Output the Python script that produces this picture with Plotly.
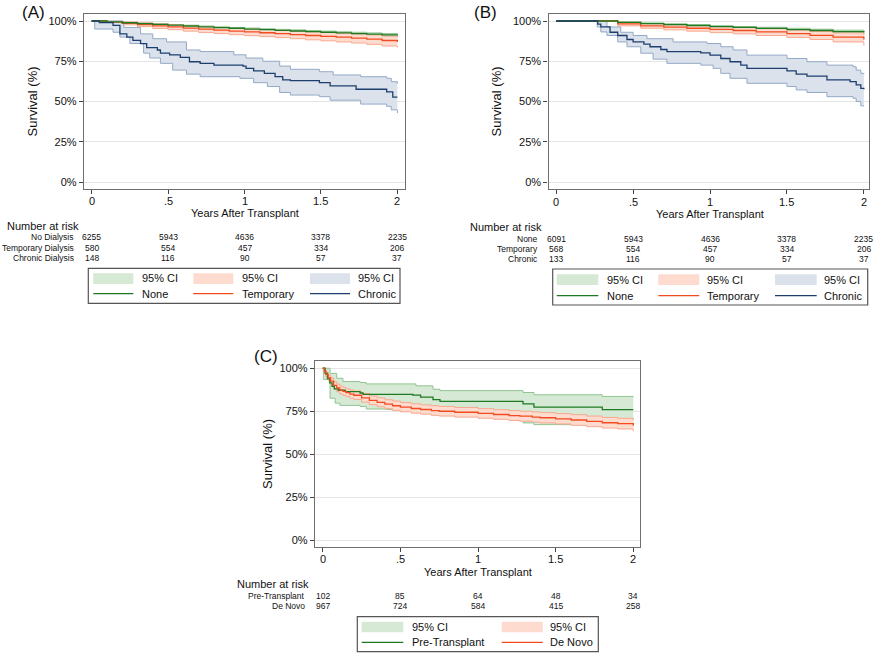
import plotly.graph_objects as go

W, H = 876, 654
FONT = "Liberation Sans, Arial, Helvetica, sans-serif"

# ---------------- DATA ----------------
ticks_x = [0, 0.5, 1, 1.5, 2]
ticks_x_text = ["0", ".5", "1", "1.5", "2"]
ticks_y = [0, 25, 50, 75, 100]
ticks_y_text = ["0%", "25%", "50%", "75%", "100%"]

# Panel A
a_none_t = [0, 0.1, 0.2, 0.3, 0.4, 0.5, 0.6, 0.7, 0.8, 0.9, 1.0, 1.1, 1.2, 1.3, 1.4, 1.5, 1.6, 1.7, 1.8, 1.9, 2.0]
a_none_s = [100, 99.4, 98.9, 98.4, 97.9, 97.4, 96.9, 96.4, 95.9, 95.5, 95.0, 94.6, 94.2, 93.8, 93.4, 93.0, 92.6, 92.2, 91.8, 91.4, 91.0]
a_none_lo = [100, 99.2, 98.6, 98.0, 97.5, 97.0, 96.4, 95.9, 95.4, 94.9, 94.4, 94.0, 93.5, 93.1, 92.6, 92.2, 91.8, 91.3, 90.9, 90.5, 90.1]
a_none_hi = [100, 99.6, 99.2, 98.8, 98.3, 97.8, 97.4, 96.9, 96.4, 96.0, 95.6, 95.2, 94.8, 94.5, 94.1, 93.7, 93.3, 93.0, 92.6, 92.2, 91.8]

a_temp_t = [0, 0.1, 0.2, 0.3, 0.4, 0.5, 0.6, 0.7, 0.8, 0.9, 1.0, 1.1, 1.2, 1.3, 1.4, 1.5, 1.6, 1.7, 1.8, 1.9, 2.0]
a_temp_s = [100, 99.3, 98.6, 97.8, 97.0, 96.3, 95.6, 94.9, 94.3, 93.7, 93.2, 92.7, 92.2, 91.6, 91.0, 90.5, 90.0, 89.4, 88.7, 87.9, 87.0]
a_temp_lo = [100, 98.6, 97.6, 96.5, 95.4, 94.6, 93.7, 92.9, 92.2, 91.5, 90.9, 90.3, 89.7, 89.0, 88.3, 87.7, 87.0, 86.3, 85.5, 84.5, 83.5]
a_temp_hi = [100, 99.8, 99.4, 98.8, 98.2, 97.6, 97.0, 96.4, 95.9, 95.4, 95.0, 94.6, 94.2, 93.7, 93.2, 92.8, 92.4, 91.9, 91.3, 90.6, 89.8]

a_chr_t = [0, 0.05, 0.14, 0.185, 0.23, 0.27, 0.32, 0.36, 0.43, 0.45, 0.51, 0.58, 0.64, 0.71, 0.8, 0.99, 1.01, 1.06, 1.13, 1.2, 1.25, 1.3, 1.49, 1.56, 1.73, 1.93, 1.97, 2.0]
a_chr_s = [100, 99, 97.3, 92, 90, 88, 86, 83.5, 82, 80, 79, 77.4, 74.7, 73.7, 72.6, 72, 70.6, 69, 67.5, 65.4, 63.4, 63, 61.7, 59.7, 57.6, 56, 52.7, 52.7]
a_chr_hi_t = [0, 0.055, 0.21, 0.32, 0.40, 0.49, 0.62, 0.71, 0.93, 1.01, 1.12, 1.23, 1.30, 1.49, 1.58, 1.76, 1.93, 1.96, 2.0]
a_chr_hi = [100, 100, 96, 92, 89, 87, 82, 81, 79, 77, 75, 72, 70, 68.5, 66.5, 65.4, 64.4, 62.3, 61]
a_chr_lo_t = [0, 0.02, 0.14, 0.185, 0.25, 0.34, 0.38, 0.45, 0.53, 0.62, 0.71, 0.97, 1.06, 1.15, 1.23, 1.30, 1.49, 1.56, 1.76, 1.93, 1.96, 2.0]
a_chr_lo = [100, 95, 93, 90, 86, 80, 77, 73.7, 69.5, 67, 65.4, 64.4, 61.7, 59.3, 55.6, 54, 53, 50.8, 48.4, 47, 44.8, 42.8]

a_groups = ["No Dialysis", "Temporary Dialysis", "Chronic Dialysis"]
a_risk = [[6255, 5943, 4636, 3378, 2235], [580, 554, 457, 334, 206], [148, 116, 90, 57, 37]]

# Panel B
b_none_t = [0, 0.27, 0.4, 0.55, 0.7, 0.85, 1.0, 1.15, 1.3, 1.5, 1.65, 1.8, 2.0]
b_none_s = [100, 100, 99.2, 98.4, 97.8, 97.2, 96.5, 96.0, 95.4, 94.7, 94.1, 93.4, 92.8]
b_none_lo = [100, 100, 98.9, 98.0, 97.3, 96.7, 95.9, 95.4, 94.7, 93.9, 93.3, 92.5, 91.9]
b_none_hi = [100, 100, 99.5, 98.8, 98.3, 97.7, 97.1, 96.6, 96.1, 95.5, 94.9, 94.3, 93.7]

b_temp_t = [0, 0.27, 0.4, 0.55, 0.7, 0.85, 1.0, 1.15, 1.3, 1.5, 1.65, 1.8, 2.0]
b_temp_s = [100, 100, 98.2, 97.0, 96.2, 95.5, 94.8, 94.1, 93.3, 92.2, 91.1, 90.0, 88.5]
b_temp_lo = [100, 100, 97.0, 95.5, 94.5, 93.7, 92.8, 92.0, 91.0, 89.8, 88.5, 87.0, 84.8]
b_temp_hi = [100, 100, 99.2, 98.3, 97.6, 97.1, 96.5, 95.9, 95.3, 94.4, 93.5, 92.6, 91.3]

b_chr_t = [0, 0.27, 0.29, 0.35, 0.40, 0.46, 0.50, 0.57, 0.61, 0.68, 0.72, 0.94, 1.0, 1.07, 1.13, 1.2, 1.24, 1.5, 1.56, 1.63, 1.76, 1.91, 1.95, 1.98, 2.0]
b_chr_s = [100, 98, 96.3, 93, 91, 88.5, 87, 85.6, 84, 82.3, 81, 80.2, 78.8, 76.7, 74.7, 72.6, 70.6, 69, 67, 65.8, 63.4, 62.3, 60.3, 58.2, 57.6]
b_chr_hi_t = [0, 0.266, 0.33, 0.42, 0.50, 0.59, 0.76, 0.98, 1.07, 1.15, 1.24, 1.5, 1.63, 1.76, 1.93, 1.95, 1.98, 2.0]
b_chr_hi = [100, 100, 96.3, 93, 91, 89, 87, 86, 84, 82, 78.8, 76.7, 74.7, 72.6, 71.6, 69.5, 67.5, 67]
b_chr_lo_t = [0, 0.266, 0.29, 0.33, 0.40, 0.46, 0.55, 0.63, 0.72, 0.94, 1.02, 1.07, 1.13, 1.24, 1.5, 1.56, 1.63, 1.76, 1.93, 1.95, 1.98, 2.0]
b_chr_lo = [100, 96.3, 93.2, 91, 87, 84, 80, 76.3, 73.7, 72.6, 70.6, 67.5, 64.4, 61.3, 59.3, 57.2, 55.6, 53, 52, 50, 47.3, 47]

b_groups = ["None", "Temporary", "Chronic"]
b_risk = [[6091, 5943, 4636, 3378, 2235], [568, 554, 457, 334, 206], [133, 116, 90, 57, 37]]

# Panel C
c_pre_t = [0, 0.015, 0.03, 0.045, 0.06, 0.075, 0.1, 0.145, 0.24, 0.26, 0.58, 0.63, 0.71, 0.755, 1.29, 1.36, 1.8, 2.0]
c_pre_s = [100, 97, 94, 91.5, 89.5, 88, 87.2, 86.4, 85.6, 84.8, 84.4, 83.2, 81.7, 80.7, 79.3, 77.4, 75.9, 75.9]
c_pre_hi_t = [0, 0.047, 0.09, 0.13, 0.24, 0.28, 0.6, 0.71, 0.755, 1.29, 1.36, 1.8, 2.0]
c_pre_hi = [100, 97, 94.2, 92.3, 91.7, 90.9, 89.8, 87.8, 87, 85.9, 84.6, 83.6, 83.2]
c_pre_lo_t = [0, 0.004, 0.047, 0.08, 0.11, 0.24, 0.28, 0.41, 0.58, 0.63, 0.71, 0.755, 1.29, 1.36, 1.8, 2.0]
c_pre_lo = [100, 93.5, 82.6, 79.7, 78.4, 77.8, 76.3, 76.0, 75.5, 74.2, 73.2, 72.5, 68.2, 67.2, 66.2, 66.2]

c_dn_t = [0, 0.01, 0.02, 0.035, 0.05, 0.07, 0.09, 0.11, 0.13, 0.15, 0.175, 0.2, 0.25, 0.3, 0.35, 0.4, 0.45, 0.5, 0.57, 0.63, 0.7, 0.75, 0.85, 1.0, 1.1, 1.2, 1.27, 1.35, 1.4, 1.5, 1.6, 1.7, 1.8, 1.9, 2.0]
c_dn_s = [100, 98.3, 96.5, 94.4, 92.5, 90.0, 88.6, 87.3, 86.5, 85.8, 85.0, 84.3, 82.8, 81.3, 80.2, 79.1, 78.2, 77.4, 76.6, 76.0, 75.4, 75.0, 74.4, 73.7, 73.1, 72.5, 72.1, 71.6, 71.2, 70.6, 69.9, 69.1, 68.3, 67.8, 66.6]
c_dn_hi = [100, 99.3, 97.8, 96.0, 94.4, 92.1, 90.8, 89.6, 88.8, 88.1, 87.4, 86.7, 85.3, 83.8, 82.8, 81.7, 80.9, 80.1, 79.3, 78.7, 78.2, 77.8, 77.2, 76.5, 75.9, 75.4, 75.0, 74.6, 74.2, 73.6, 73.0, 72.2, 71.4, 70.9, 69.7]
c_dn_lo = [100, 97.3, 95.2, 92.8, 90.6, 87.9, 86.4, 85.0, 84.2, 83.5, 82.6, 81.9, 80.3, 78.8, 77.6, 76.5, 75.5, 74.7, 73.9, 73.3, 72.6, 72.2, 71.6, 70.9, 70.3, 69.6, 69.2, 68.7, 68.2, 67.6, 66.8, 66.0, 65.2, 64.7, 63.3]

c_groups = ["Pre-Transplant", "De Novo"]
c_risk = [[102, 85, 64, 48, 34], [967, 724, 584, 415, 258]]

# ---------------- STYLE ----------------
GREEN, GREEN_FILL, GREEN_EDGE = "#1e7a22", "#d6e9d4", "#92c492"
ORANGE, ORANGE_FILL, ORANGE_EDGE = "#f24b1f", "#fddccf", "#f8a88f"
NAVY, NAVY_FILL, NAVY_EDGE = "#1d3f6e", "#dbe2eb", "#93a9c7"
FRAME = "#6e6e6e"
TXT = "#111111"


def px(x):
    return x / W


def py(y):
    return 1 - y / H


fig = go.Figure()


def band(ax, t_hi, hi, t_lo, lo, fill, edge):
    fig.add_trace(go.Scatter(x=t_hi, y=hi, mode="lines", xaxis="x" + ax, yaxis="y" + ax,
                             line=dict(color=edge, width=1, shape="hv"),
                             hoverinfo="skip", showlegend=False))
    fig.add_trace(go.Scatter(x=t_lo, y=lo, mode="lines", xaxis="x" + ax, yaxis="y" + ax,
                             line=dict(color=edge, width=1, shape="hv"),
                             fill="tonexty", fillcolor=fill,
                             hoverinfo="skip", showlegend=False))


def curve(ax, t, s, color):
    fig.add_trace(go.Scatter(x=t, y=s, mode="lines", xaxis="x" + ax, yaxis="y" + ax,
                             line=dict(color=color, width=1.3, shape="hv"),
                             showlegend=False))


# Panel A (axis suffix "")
band("", a_none_t, a_none_hi, a_none_t, a_none_lo, GREEN_FILL, GREEN_EDGE)
band("", a_temp_t, a_temp_hi, a_temp_t, a_temp_lo, ORANGE_FILL, ORANGE_EDGE)
band("", a_chr_hi_t, a_chr_hi, a_chr_lo_t, a_chr_lo, NAVY_FILL, NAVY_EDGE)
curve("", a_temp_t, a_temp_s, ORANGE)
curve("", a_none_t, a_none_s, GREEN)
curve("", a_chr_t, a_chr_s, NAVY)

# Panel B
band("2", b_none_t, b_none_hi, b_none_t, b_none_lo, GREEN_FILL, GREEN_EDGE)
band("2", b_temp_t, b_temp_hi, b_temp_t, b_temp_lo, ORANGE_FILL, ORANGE_EDGE)
band("2", b_chr_hi_t, b_chr_hi, b_chr_lo_t, b_chr_lo, NAVY_FILL, NAVY_EDGE)
curve("2", b_temp_t, b_temp_s, ORANGE)
curve("2", b_none_t, b_none_s, GREEN)
curve("2", b_chr_t, b_chr_s, NAVY)

# Panel C
band("3", c_pre_hi_t, c_pre_hi, c_pre_lo_t, c_pre_lo, GREEN_FILL, GREEN_EDGE)
band("3", c_dn_t, c_dn_hi, c_dn_t, c_dn_lo, ORANGE_FILL, ORANGE_EDGE)
curve("3", c_pre_t, c_pre_s, GREEN)
curve("3", c_dn_t, c_dn_s, ORANGE)


def xax(domain, rng, anchor):
    return dict(domain=domain, range=rng, anchor=anchor, tickvals=ticks_x,
                ticks="outside", ticklen=4, tickcolor="#444", tickwidth=1, showticklabels=False,
                showline=True, linecolor=FRAME, linewidth=1.3, mirror=True,
                showgrid=False, zeroline=False, fixedrange=True)


def yax(domain, rng, anchor):
    return dict(domain=domain, range=rng, anchor=anchor, tickvals=ticks_y, ticktext=ticks_y_text,
                ticks="outside", ticklen=4, tickcolor="#444", tickwidth=1,
                showline=True, linecolor=FRAME, linewidth=1.3, mirror=True,
                showgrid=True, gridcolor="#e4e4e4", gridwidth=1, zeroline=False, fixedrange=True,
                tickfont=dict(family=FONT, size=11, color=TXT))


fig.update_layout(
    width=W, height=H, margin=dict(l=0, r=0, t=0, b=0),
    paper_bgcolor="white", plot_bgcolor="white",
    showlegend=False,
    xaxis=xax([px(84), px(405)], [-0.05, 2.05], "y"),
    yaxis=yax([py(189), py(14)], [-4.35, 104.35], "x"),
    xaxis2=xax([px(548.5), px(868.5)], [-0.05, 2.03], "y2"),
    yaxis2=yax([py(189), py(14)], [-4.35, 104.35], "x2"),
    xaxis3=xax([px(315), px(639.5)], [-0.05, 2.04], "y3"),
    yaxis3=yax([py(547), py(361.4)], [-4.0, 104.0], "x3"),
)

ann = []
shapes = []


def text(x, y, s, size=11, xanchor="center", xref="paper", angle=0):
    ann.append(dict(x=px(x) if xref == "paper" else x, y=py(y), xref=xref, yref="paper",
                    text=s, showarrow=False, xanchor=xanchor, yanchor="middle", textangle=angle,
                    font=dict(family=FONT, size=size, color=TXT)))


# x tick labels
for t, lab in zip(ticks_x, ticks_x_text):
    text(t, 200.5, lab, 11, "center", xref="x")
    text(t, 201.5, lab, 11, "center", xref="x2")
    text(t, 559, lab, 11, "center", xref="x3")

# Panel labels and axis titles
text(20, 12, "(A)", 17, "left")
text(472, 12, "(B)", 17, "left")
text(252, 357, "(C)", 17, "left")
text(32, 101.5, "Survival (%)", 13, angle=-90)
text(496, 101.5, "Survival (%)", 13, angle=-90)
text(267, 454, "Survival (%)", 13, angle=-90)
text(244.5, 213.3, "Years After Transplant", 11)
text(710, 214, "Years After Transplant", 11)
text(478, 571.7, "Years After Transplant", 11)

# Risk tables
text(5, 225.7, "Number at risk", 11, "left")
for g, row, yy in zip(a_groups, a_risk, [237.3, 247.5, 257.7]):
    text(76, yy, g, 8.5, "right")
    for t, n in zip(ticks_x, row):
        text(t, yy, str(n), 8.5, "center", xref="x")

text(468, 226.7, "Number at risk", 11, "left")
for g, row, yy in zip(b_groups, b_risk, [239, 249.2, 259.3]):
    text(540, yy, g, 8.5, "right")
    for t, n in zip(ticks_x, row):
        text(t, yy, str(n), 8.5, "center", xref="x2")

text(235, 584.3, "Number at risk", 11, "left")
for g, row, yy in zip(c_groups, c_risk, [596, 606.2]):
    text(307, yy, g, 8.5, "right")
    for t, n in zip(ticks_x, row):
        text(t, yy, str(n), 8.5, "center", xref="x3")


# Legends (drawn boxes)
def legend_box(x0, y0, x1, y1, cols, row1_y, row2_y, fy0, fy1, entries):
    shapes.append(dict(type="rect", xref="paper", yref="paper", x0=px(x0), x1=px(x1), y0=py(y1), y1=py(y0),
                       line=dict(color="#555555", width=1.2), fillcolor="white", layer="above"))
    for (sx0, sx1, tx), (fillc, linec, label) in zip(cols, entries):
        shapes.append(dict(type="rect", xref="paper", yref="paper", x0=px(sx0), x1=px(sx1),
                           y0=py(fy1), y1=py(fy0), line=dict(width=0), fillcolor=fillc, layer="above"))
        shapes.append(dict(type="line", xref="paper", yref="paper", x0=px(sx0), x1=px(sx1),
                           y0=py(row2_y), y1=py(row2_y), line=dict(color=linec, width=1.3), layer="above"))
        text(tx, row1_y, "95% CI", 11, "left")
        text(tx, row2_y, label, 11, "left")


legend_box(88.3, 268.3, 400, 303.3,
           [(93.3, 133.3, 139.5), (193.3, 233.3, 240), (310, 350, 356)],
           278.3, 293.6, 273.3, 284,
           [(GREEN_FILL, GREEN, "None"), (ORANGE_FILL, ORANGE, "Temporary"), (NAVY_FILL, NAVY, "Chronic")])
legend_box(552.7, 269, 867.7, 305,
           [(556.7, 598.3, 604.5), (658.3, 699.3, 705), (775, 816.7, 822)],
           280, 295.7, 274.3, 285,
           [(GREEN_FILL, GREEN, "None"), (ORANGE_FILL, ORANGE, "Temporary"), (NAVY_FILL, NAVY, "Chronic")])
legend_box(357.3, 616.7, 598.3, 651.7,
           [(361.7, 403.3, 409.5), (501.7, 542.7, 548)],
           627.3, 642.3, 621.7, 632.3,
           [(GREEN_FILL, GREEN, "Pre-Transplant"), (ORANGE_FILL, ORANGE, "De Novo")])

fig.update_layout(annotations=ann, shapes=shapes)
fig.write_html("out.html", config={"displayModeBar": False},
               post_script="document.body.style.margin='0px';document.body.style.padding='0px';")
